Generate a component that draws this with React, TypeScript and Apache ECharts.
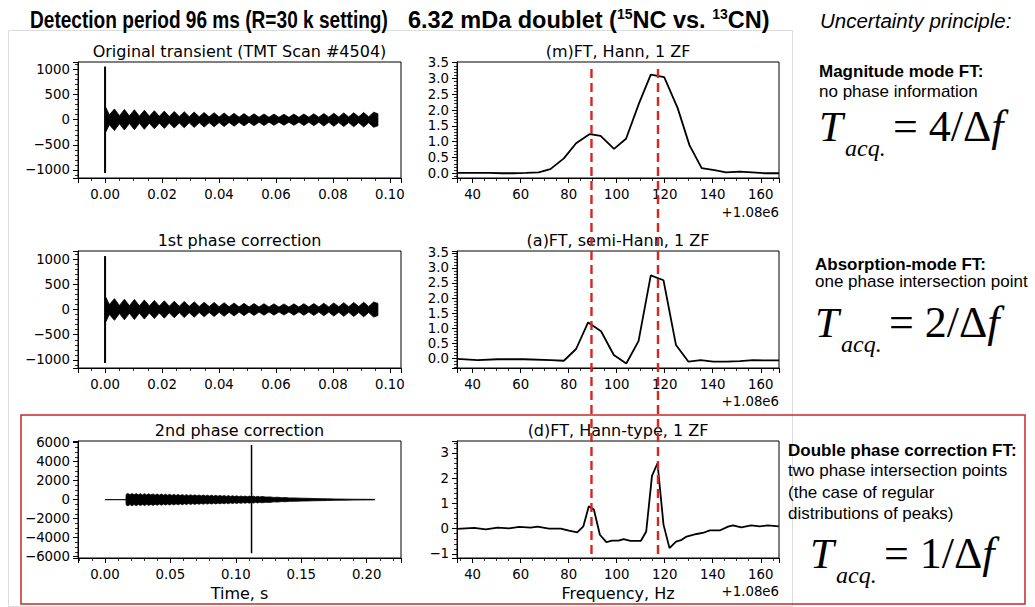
import React, { useEffect, useRef } from "react";
import * as echarts from "echarts";

// ---------- data ----------
// Transient envelope (time s, half-amplitude) for the original / 1st phase corrected transient
const transientEnvelope: [number, number][] = [
  [0.0003, 240], [0.0015, 100],
  [0.0033, 215], [0.00505, 80], [0.0068, 205], [0.00855, 75], [0.0103, 200], [0.01205, 72],
  [0.0138, 190], [0.01555, 70], [0.0173, 180], [0.01905, 68], [0.0208, 172], [0.02255, 66],
  [0.0243, 165], [0.02605, 64], [0.0278, 160], [0.02955, 62], [0.0313, 152], [0.03305, 60],
  [0.0348, 145], [0.03655, 58], [0.0383, 140], [0.04005, 56], [0.0418, 135], [0.04355, 54],
  [0.0453, 128], [0.04705, 52], [0.0488, 122], [0.05055, 50], [0.0523, 118], [0.05405, 50],
  [0.0558, 115], [0.05755, 48], [0.0593, 112], [0.06105, 48], [0.0628, 110], [0.06455, 48],
  [0.0663, 112], [0.06805, 48], [0.0698, 115], [0.07155, 50], [0.0733, 118], [0.07505, 50],
  [0.0768, 124], [0.07855, 52], [0.0803, 130], [0.08205, 54], [0.0838, 135], [0.08555, 56],
  [0.0873, 140], [0.08905, 58], [0.0908, 145], [0.09255, 60], [0.0943, 150], [0.0958, 120],
];
const transientSpike: [number, number][] = [[0, -1060], [0, 1060]];

// Envelope of the 2nd phase corrected transient
const secondEnvelope: [number, number][] = [
  [0, 0], [0.016, 0], [0.0162, 560],
  [0.0175, 650], [0.0191, 520], [0.0207, 645], [0.0223, 515], [0.0239, 640], [0.0255, 505],
  [0.0271, 630], [0.0287, 500], [0.0303, 625], [0.0319, 490], [0.0335, 612], [0.0351, 485],
  [0.0367, 605], [0.0383, 475], [0.0399, 592], [0.0415, 468], [0.0431, 585], [0.0447, 460],
  [0.0463, 572], [0.0479, 452], [0.0495, 565], [0.0511, 445], [0.0527, 552], [0.0543, 436],
  [0.0559, 545], [0.0575, 428], [0.0591, 532], [0.0607, 420], [0.0623, 525], [0.0639, 412],
  [0.0655, 512], [0.0671, 405], [0.0687, 505], [0.0703, 396], [0.0719, 492], [0.0735, 388],
  [0.0751, 485], [0.0767, 380], [0.0783, 472], [0.0799, 372], [0.0815, 465], [0.0831, 364],
  [0.0847, 452], [0.0863, 356], [0.0879, 445], [0.0895, 348], [0.0911, 432], [0.0927, 340],
  [0.0943, 425], [0.0959, 332], [0.0975, 412], [0.0991, 324], [0.1007, 405], [0.1023, 316],
  [0.1039, 392], [0.1055, 308], [0.1071, 385], [0.1087, 300], [0.1103, 372], [0.1119, 292],
  [0.1135, 362], [0.1151, 282], [0.1167, 350], [0.1183, 272], [0.1199, 335],
  [0.123, 270], [0.126, 290], [0.129, 235], [0.132, 255], [0.135, 205], [0.138, 220],
  [0.141, 180], [0.145, 180], [0.15, 155], [0.155, 140], [0.16, 120], [0.165, 105],
  [0.17, 90], [0.175, 75], [0.18, 62], [0.185, 52], [0.19, 45], [0.195, 40], [0.2, 35], [0.206, 30],
];
const secondSpike: [number, number][] = [[0.112, -5650], [0.112, 5750]];

// Spectra (frequency offset Hz from 1.08e6, intensity)
const magnitudeFT: [number, number][] = [
  [33.5, 0.01], [41.7, 0.01], [47.0, 0.01], [52.2, 0.0], [57.0, 0.0], [62.2, 0.01], [67.5, 0.03],
  [72.4, 0.13], [78.0, 0.47], [83.1, 0.95], [88.8, 1.24], [93.3, 1.18], [98.9, 0.77], [103.9, 1.09],
  [109.3, 2.21], [114.2, 3.12], [119.8, 3.04], [125.4, 2.06], [130.3, 0.89], [135.4, 0.16],
  [140.7, 0.1], [145.6, 0.03], [151.2, 0.05], [156.4, 0.03], [161.6, 0.0], [167.6, 0.0],
];
const absorptionFT: [number, number][] = [
  [33.5, -0.02], [42.1, -0.06], [50.4, -0.03], [61.4, -0.03], [72.5, -0.06], [78.0, -0.08],
  [83.1, 0.31], [88.1, 1.19], [93.5, 0.9], [98.8, 0.11], [104.0, -0.17], [109.1, 0.57],
  [114.2, 2.75], [119.5, 2.59], [124.7, 0.44], [129.9, -0.11], [135.0, -0.06], [140.2, -0.11],
  [145.8, -0.11], [151.3, -0.09], [156.8, -0.06], [162.4, -0.07], [167.6, -0.07],
];
const doubleFT: [number, number][] = [
  [33.5, -0.01], [40.7, 0.03], [45.5, -0.03], [50.4, 0.04], [55.2, 0.01], [59.4, 0.07],
  [64.2, 0.04], [67.0, 0.08], [71.8, 0.0], [76.7, 0.0], [80.1, -0.08], [83.6, -0.15],
  [86.1, 0.09], [88.4, 0.89], [90.5, 0.76], [93.0, -0.24], [95.7, -0.53], [98.1, -0.47],
  [100.8, -0.47], [102.9, -0.41], [105.7, -0.48], [110.1, -0.48], [112.3, -0.11], [114.7, 2.09],
  [117.0, 2.59], [119.5, 0.16], [122.0, -0.77], [124.7, -0.51], [127.1, -0.44], [129.1, -0.31],
  [133.3, -0.21], [135.8, -0.17], [138.8, -0.07], [142.9, -0.07], [146.4, 0.08], [148.4, 0.13],
  [151.9, 0.05], [156.0, 0.13], [159.5, 0.09], [162.9, 0.13], [167.5, 0.09],
];
// Doublet peak positions (dashed markers)
const markerFreqs = [89.5, 117.2];

const panelTitles = [
  "Original transient (TMT Scan #4504)",
  "(m)FT, Hann, 1 ZF",
  "1st phase correction",
  "(a)FT, semi-Hann, 1 ZF",
  "2nd phase correction",
  "(d)FT, Hann-type, 1 ZF",
];

// ---------- styling ----------
const MPL = "'DejaVu Sans', sans-serif";
const SANS = "'Liberation Sans', Arial, sans-serif";
const SERIF = "'Liberation Serif', 'Times New Roman', serif";
const TICK_FS = 13.3;

function fmt(v: number, dec: number) {
  const s = Math.abs(v).toFixed(dec);
  return v < -1e-9 ? "\u2212" + s : s;
}
function tickFmt(step: number, dec: number) {
  return (v: number) => {
    const r = v / step;
    if (Math.abs(r - Math.round(r)) > 1e-6) return "";
    return fmt(Math.round(r) * step, dec);
  };
}

function axis(gridIndex: number, min: number, max: number, step: number, dec: number, minor: number, isX: boolean, name?: string) {
  return {
    type: "value",
    gridIndex,
    min,
    max,
    minInterval: step,
    maxInterval: step,
    splitNumber: Math.max(1, Math.round((max - min) / step)),
    axisLine: { show: true, onZero: false, lineStyle: { color: "#000", width: 1 } },
    axisTick: { show: true, length: 5, lineStyle: { color: "#000", width: 1 } },
    minorTick: { show: true, splitNumber: minor, length: 3, lineStyle: { color: "#000", width: 0.8 } },
    splitLine: { show: false },
    minorSplitLine: { show: false },
    axisLabel: {
      formatter: tickFmt(step, dec),
      color: "#000",
      fontFamily: MPL,
      fontSize: TICK_FS,
      margin: isX ? 10 : 8,
      hideOverlap: false,
    },
    name: name || "",
    nameLocation: "middle",
    nameGap: 27,
    nameTextStyle: { fontFamily: MPL, fontSize: 16, color: "#000" },
  };
}

function envelopeSeries(idx: number, env: [number, number][]) {
  return {
    type: "custom",
    xAxisIndex: idx,
    yAxisIndex: idx,
    clip: true,
    silent: true,
    data: env,
    renderItem: (params: any, api: any) => {
      if (params.dataIndex !== 0) return null;
      const upper = env.map(([t, a]) => api.coord([t, a]));
      const lower = env.map(([t, a]) => api.coord([t, -a])).reverse();
      return {
        type: "polygon",
        shape: { points: upper.concat(lower) },
        style: { fill: "#000", stroke: "#000", lineWidth: 0.8 },
      };
    },
  };
}
function lineSeries(idx: number, data: [number, number][], width: number) {
  return {
    type: "line",
    xAxisIndex: idx,
    yAxisIndex: idx,
    data,
    symbol: "none",
    silent: true,
    clip: true,
    lineStyle: { color: "#000", width },
  };
}

const grids = [
  { left: 78, top: 62, width: 323, height: 116 },
  { left: 457, top: 62, width: 322, height: 116 },
  { left: 78, top: 251, width: 323, height: 117 },
  { left: 457, top: 251, width: 322, height: 117 },
  { left: 78, top: 441, width: 323, height: 117 },
  { left: 457, top: 441, width: 322, height: 117 },
];

function txt(id: string, x: number, y: number, text: string, style: any, extra: any = {}) {
  return {
    type: "text",
    id,
    x,
    y,
    ...extra,
    style: { text, fill: "#000", align: "left", verticalAlign: "middle", ...style },
  };
}

function formula(prefix: string, x: number, y: number, num: string) {
  return [
    txt(prefix + "T", x, y, "T", { fontFamily: SERIF, fontSize: 43, fontStyle: "italic" }),
    txt(prefix + "s", x + 26, y + 22, "acq.", { fontFamily: SERIF, fontSize: 24, fontStyle: "italic" }),
    txt(prefix + "r", x + 74, y, "{r|= " + num + "/\u0394}{i|f}", {
      rich: {
        r: { fontFamily: SERIF, fontSize: 44, fill: "#000" },
        i: { fontFamily: SERIF, fontSize: 44, fontStyle: "italic", fill: "#000" },
      },
    }),
  ];
}

function buildTexts() {
  const els: any[] = [];
  els.push({
    type: "rect", id: "frame", shape: { x: 8.5, y: 30.5, width: 784, height: 576 },
    style: { fill: "none", stroke: "#dcdcdc", lineWidth: 1 }, z: 0,
  });
  els.push({
    type: "rect", id: "redbox", shape: { x: 21, y: 415, width: 1004, height: 189 },
    style: { fill: "none", stroke: "#c62828", lineWidth: 1.5 }, z: 1,
  });
  els.push(txt("h1", 30, 20, "Detection period 96 ms (R=30 k setting)",
    { fontFamily: SANS, fontSize: 23, fontWeight: "bold" }, { scaleX: 0.83 }));
  els.push(txt("h2", 408, 20, "{b|6.32 mDa doublet (}{s|15}{b|NC vs. }{s|13}{b|CN)}", {
    rich: {
      b: { fontFamily: SANS, fontSize: 23.5, fontWeight: "bold", fill: "#000", lineHeight: 26 },
      s: { fontFamily: SANS, fontSize: 14, fontWeight: "bold", fill: "#000", verticalAlign: "top", lineHeight: 16 },
    },
  }));
  els.push(txt("h3", 820, 20, "Uncertainty principle:", { fontFamily: SANS, fontSize: 20.5, fontStyle: "italic" }));

  const cx = [239.5, 618];
  const ty = [51.5, 240.5, 430];
  panelTitles.forEach((t, i) => {
    els.push(txt("pt" + i, cx[i % 2], ty[Math.floor(i / 2)], t, { fontFamily: MPL, fontSize: 16, align: "center" }));
  });
  [212, 401, 591].forEach((y, i) => {
    els.push(txt("off" + i, 779, y, "+1.08e6", { fontFamily: MPL, fontSize: TICK_FS, align: "right" }));
  });

  els.push(txt("m1", 819, 71, "Magnitude mode FT:", { fontFamily: SANS, fontSize: 17, fontWeight: "bold" }));
  els.push(txt("m2", 819, 91, "no phase information", { fontFamily: SANS, fontSize: 17 }));
  els.push(...formula("f1", 819, 126, "4"));

  els.push(txt("a1", 815, 264, "Absorption-mode FT:", { fontFamily: SANS, fontSize: 17, fontWeight: "bold" }));
  els.push(txt("a2", 815, 281, "one phase intersection point", { fontFamily: SANS, fontSize: 17 }));
  els.push(...formula("f2", 815, 322, "2"));

  els.push(txt("d1", 788, 450, "Double phase correction FT:", { fontFamily: SANS, fontSize: 17, fontWeight: "bold" }));
  els.push(txt("d2", 788, 470, "two phase intersection points", { fontFamily: SANS, fontSize: 17 }));
  els.push(txt("d3", 788, 492, "(the case of regular", { fontFamily: SANS, fontSize: 17 }));
  els.push(txt("d4", 788, 513, "distributions of peaks)", { fontFamily: SANS, fontSize: 17 }));
  els.push(...formula("f3", 810, 553, "1"));
  return els;
}

function buildOption() {
  return {
    animation: false,
    backgroundColor: "#fff",
    grid: grids.map((g) => ({ ...g, show: true, borderColor: "#000", borderWidth: 1, backgroundColor: "transparent" })),
    xAxis: [
      axis(0, -0.0095, 0.1039, 0.02, 2, 4, true),
      axis(1, 33.5, 167.6, 20, 0, 4, true),
      axis(2, -0.0095, 0.1039, 0.02, 2, 4, true),
      axis(3, 33.5, 167.6, 20, 0, 4, true),
      axis(4, -0.0206, 0.2262, 0.05, 2, 5, true, "Time, s"),
      axis(5, 33.5, 167.6, 20, 0, 4, true, "Frequency, Hz"),
    ],
    yAxis: [
      axis(0, -1160, 1150, 500, 0, 5, false),
      axis(1, -0.15, 3.52, 0.5, 1, 5, false),
      axis(2, -1160, 1160, 500, 0, 5, false),
      axis(3, -0.32, 3.56, 0.5, 1, 5, false),
      axis(4, -6150, 6180, 2000, 0, 4, false),
      axis(5, -1.16, 3.47, 1, 0, 5, false),
    ],
    series: [
      envelopeSeries(0, transientEnvelope),
      lineSeries(0, transientSpike, 2),
      lineSeries(1, magnitudeFT, 1.8),
      envelopeSeries(2, transientEnvelope),
      lineSeries(2, transientSpike, 2),
      lineSeries(3, absorptionFT, 1.8),
      envelopeSeries(4, secondEnvelope),
      lineSeries(4, secondSpike, 1.5),
      lineSeries(5, doubleFT, 1.8),
    ],
    graphic: { elements: buildTexts() },
  };
}

export default function App() {
  const ref = useRef<HTMLDivElement>(null);
  useEffect(() => {
    if (!ref.current) return;
    const chart = echarts.init(ref.current, undefined, { renderer: "svg" });
    chart.setOption(buildOption() as any);
    const lines = markerFreqs.map((f, i) => {
      const px = chart.convertToPixel({ xAxisIndex: 1 } as any, f) as unknown as number;
      return {
        type: "line",
        id: "marker" + i,
        shape: { x1: px, y1: 69, x2: px, y2: 555 },
        style: { stroke: "#d9251d", lineWidth: 2.4, lineDash: [9, 5] },
        z: 100,
      };
    });
    chart.setOption({ graphic: { elements: [...buildTexts(), ...lines] } } as any);
    return () => chart.dispose();
  }, []);
  return (
    <div
      ref={ref}
      style={{ position: "absolute", left: 0, top: 0, width: 1035, height: 607, background: "#fff" }}
    />
  );
}
